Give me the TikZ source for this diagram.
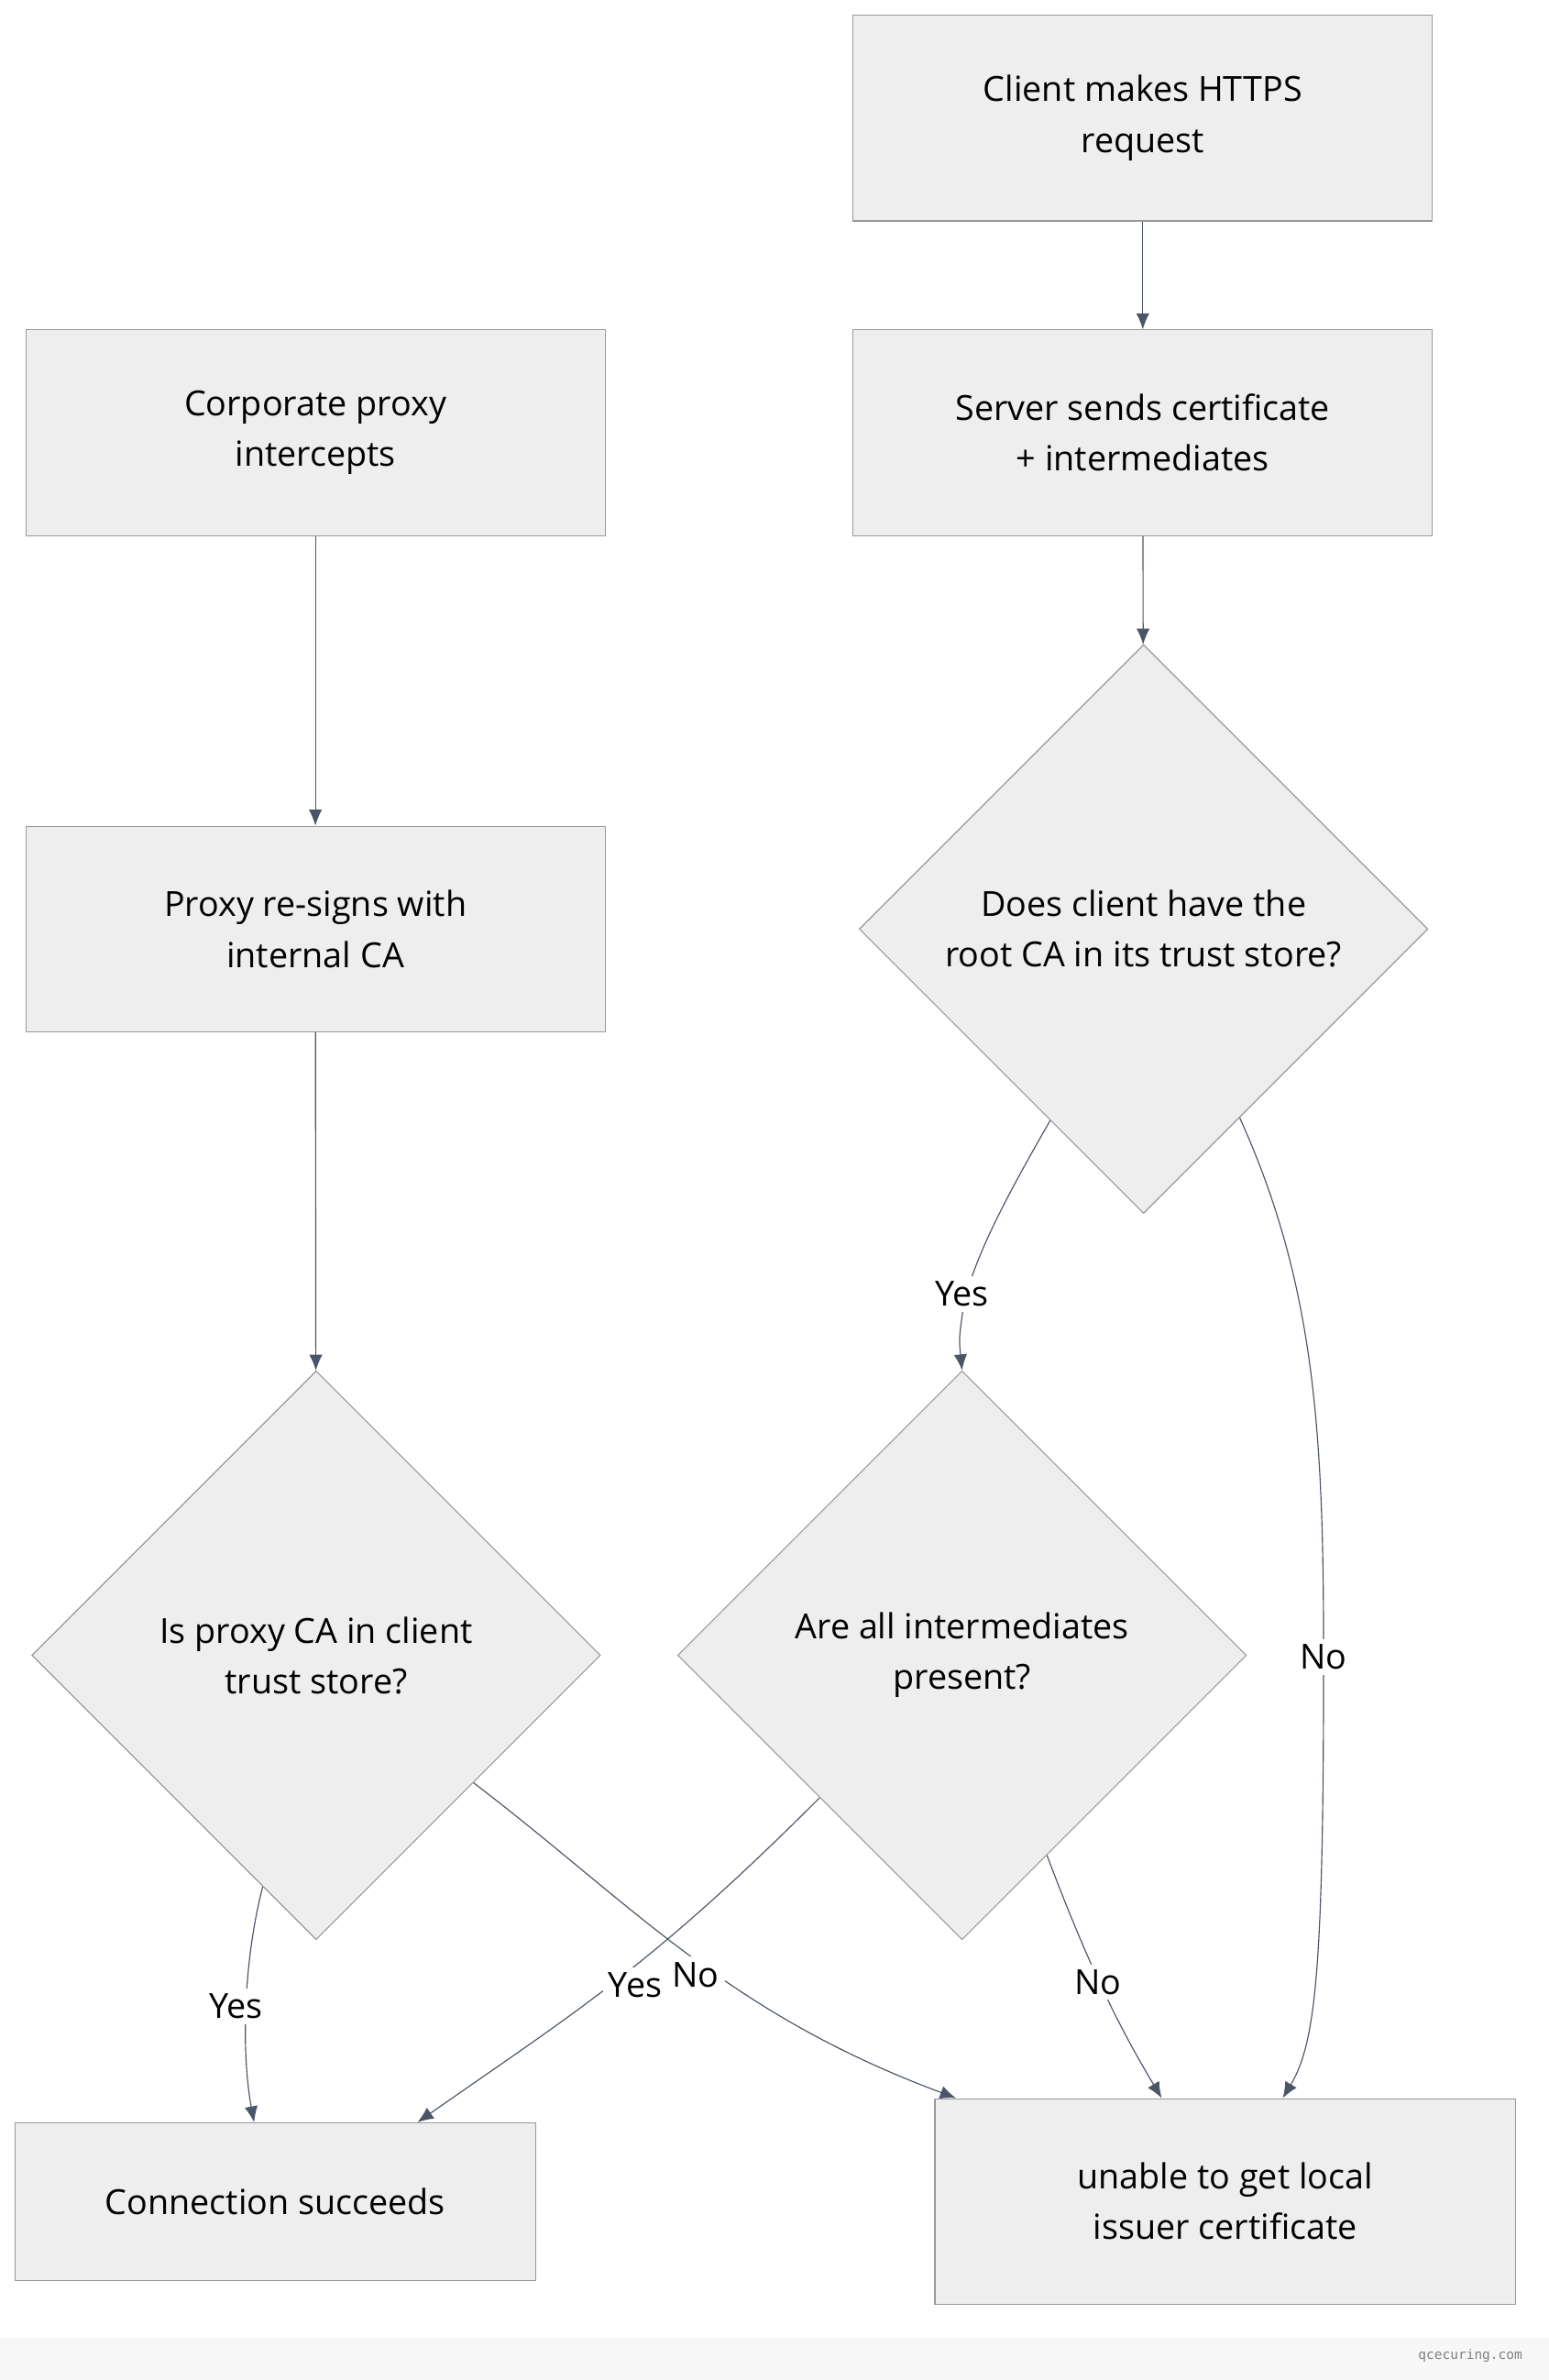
\documentclass[tikz,border=0pt]{standalone}
\usepackage{fontspec}
\setmainfont{Open Sans}
\setmonofont{DejaVu Sans Mono}
\usetikzlibrary{shapes.geometric, arrows.meta, calc}
\definecolor{boxfill}{HTML}{EEEEEE}
\definecolor{boxline}{HTML}{999999}
\definecolor{arrowline}{HTML}{4A5568}
\tikzset{
  stage/.style={rectangle, draw=boxline, fill=boxfill, minimum width=7.66cm, minimum height=2.72cm, align=center, font=\fontsize{13}{19}\selectfont},
  check/.style={diamond, draw=boxline, fill=boxfill, minimum width=7.52cm, minimum height=7.52cm, inner sep=0pt, align=center, font=\fontsize{13}{19}\selectfont},
  flow/.style={draw=arrowline, -{Latex[length=6pt, width=5pt]}},
  answer/.style={fill=white, inner sep=2pt, font=\fontsize{13}{19}\selectfont}
}
\begin{document}
\begin{tikzpicture}[x=0.02cm, y=-0.02cm]
    \useasboundingbox (0,0) rectangle (1024,1573);
    \fill[white] (0,0) rectangle (1024,1545);
    \fill[gray!6] (0,1545) rectangle (1024,1573);
    \node[text=gray, font=\ttfamily\tiny] (mark) at (972,1557) {qcecuring.com};

    \node[stage] at (755.5, 78)   (client) {Client makes HTTPS\\request};
    \node[stage] at (755.5, 286)  (server) {Server sends certificate\\+ intermediates};
    \node[stage] at (208.5, 286)  (proxy) {Corporate proxy\\intercepts};
    \node[stage] at (208.5, 614)  (resign) {Proxy re-signs with\\internal CA};
    \node[check] at (756, 614)   (root) {Does client have the\\root CA in its trust store?};
    \node[check] at (636, 1094)  (inter) {Are all intermediates\\present?};
    \node[check] at (209, 1094)  (pxca) {Is proxy CA in client\\trust store?};
    \node[stage, minimum width=6.88cm, minimum height=2.08cm] at (182, 1455) (ok) {Connection succeeds};
    \node[stage, minimum width=7.68cm] at (810, 1455) (fail) {unable to get local\\issuer certificate};

    \draw[flow] (client) -- (server);
    \draw[flow] (server) -- (root);
    \draw[flow] (proxy) -- (resign);
    \draw[flow] (resign) -- (pxca);

    \draw[flow] (root.-116.6) .. controls (660,800) and (640,840) .. (636,870) .. controls (634,885) .. (inter.north);
    \draw[flow] (root.-63.4) .. controls (870,850) and (875,950) .. (875,1095) .. controls (875,1300) and (870,1350) .. ($(fail.north)+(38,0)$);
    \draw[flow] (inter.-67.3) .. controls (720,1300) and (740,1340) .. ($(fail.north)+(-42,0)$);
    \draw[flow] (inter.-135) .. controls (430,1300) and (380,1330) .. ($(ok.north)+(94,0)$);
    \draw[flow] (pxca.-103) .. controls (160,1300) and (160,1360) .. ($(ok.north)+(-14,0)$);
    \draw[flow] (pxca.-39.9) .. controls (420,1260) and (480,1330) .. ($(fail.north)+(-178,0)$);

    \node[answer] at (636, 855)  (yes1) {Yes};
    \node[answer] at (875, 1095) (no1) {No};
    \node[answer] at (726, 1310) (no2) {No};
    \node[answer] at (420, 1312) (yes2) {Yes};
    \node[answer] at (156, 1326) (yes3) {Yes};
    \node[answer] at (460, 1305) (no3) {No};
\end{tikzpicture}
\end{document}
